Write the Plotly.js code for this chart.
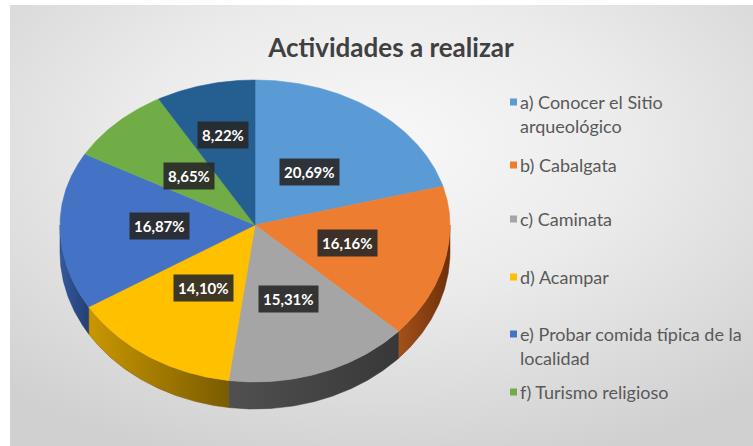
<!DOCTYPE html>
<html><head><meta charset="utf-8">
<script src="https://cdn.plot.ly/plotly-3.0.1.min.js"></script>
<style>
html,body{margin:0;padding:0;background:#fff;}
#wrap{position:relative;width:753px;height:446px;overflow:hidden;}
#bg{position:absolute;left:10px;top:5px;right:0;bottom:0;background:radial-gradient(ellipse 75% 75% at 50% 32%, #f8f8f8 0%, #ebebeb 45%, #d0d0d0 100%);}
#chart{position:absolute;left:0;top:0;width:753px;height:446px;}
</style></head><body>
<div id="wrap"><div id="bg"></div><div id="chart"></div></div>
<script>
// ---- data ----
const titleText = "Actividades a realizar";
const categories = [
  "a) Conocer el Sitio arqueológico",
  "b) Cabalgata",
  "c) Caminata",
  "d) Acampar",
  "e) Probar comida típica de la localidad",
  "f) Turismo religioso",
  "g)"
];
const values = [20.69, 16.16, 15.31, 14.10, 16.87, 8.65, 8.22];
const legendCount = 6; // the reference legend lists only the first six
const colors = ["#5B9BD5", "#ED7D31", "#A5A5A5", "#FFC000", "#4472C4", "#70AD47", "#255E91"];
const sideLight = ["#3f76a8", "#a4511a", "#505050", "#c99700", "#34599e", "#548235", "#1c4670"];
const sideDark  = ["#2c5a85", "#6e3008", "#383838", "#7a5c00", "#243f73", "#3b5e24", "#123250"];

// ---- geometry (layout) ----
const cx = 255, cy = 225, rx = 195, ryTop = 145, ryBot = 157, depth = 27;
const labelR = [0.46, 0.49, 0.5, 0.48, 0.49, 0.48, 0.64];
const legendY = [102, 165, 219, 277, 334, 392];
const legendLineGap = 24;

function pt(tDeg, f) {
  const t = tDeg * Math.PI / 180;
  const c = Math.cos(t), s = Math.sin(t);
  const ry = c >= 0 ? ryTop : ryBot;
  return [cx + rx * s * f, cy - ry * c * f];
}
function arc(a, b, f) {
  const pts = [];
  const n = Math.max(2, Math.ceil((b - a) / 0.5));
  for (let k = 0; k <= n; k++) pts.push(pt(a + (b - a) * k / n, f));
  return pts;
}

const total = values.reduce((s, v) => s + v, 0);
const starts = [], ends = [];
let acc = 0;
values.forEach(v => { starts.push(acc / total * 360); acc += v; ends.push(acc / total * 360); });

const traces = [];
// side walls (front half: 90..270 deg)
values.forEach((v, i) => {
  const a = Math.max(starts[i], 90), b = Math.min(ends[i], 270);
  if (b <= a) return;
  const top = arc(a, b, 1);
  const bot = top.slice().reverse().map(p => [p[0], p[1] + depth]);
  const poly = top.concat(bot);
  poly.push(top[0]);
  traces.push({
    type: "scatter", mode: "lines", x: poly.map(p => p[0]), y: poly.map(p => p[1]),
    fill: "toself", fillcolor: sideDark[i],
    fillgradient: {type: "horizontal", colorscale: [[0, sideLight[i]], [1, sideDark[i]]]},
    line: {width: 0.5, color: sideDark[i]}, hoverinfo: "skip", showlegend: false
  });
});
// top faces
values.forEach((v, i) => {
  const pts = [[cx, cy]].concat(arc(starts[i], ends[i], 1));
  pts.push([cx, cy]);
  traces.push({
    type: "scatter", mode: "lines", x: pts.map(p => p[0]), y: pts.map(p => p[1]),
    fill: "toself", fillcolor: colors[i], line: {width: 0.6, color: colors[i]},
    hoveron: "fills", name: categories[i], text: v.toFixed(2) + "%", hoverinfo: "name+text",
    showlegend: false
  });
});

const annotations = [];
// data labels
values.forEach((v, i) => {
  const p = pt((starts[i] + ends[i]) / 2, labelR[i]);
  annotations.push({
    x: p[0], y: p[1], xref: "x", yref: "y", showarrow: false,
    text: v.toFixed(2).replace(".", ",") + "%",
    font: {family: "Lato, 'Open Sans', sans-serif", size: 15, color: "#ffffff", weight: "bold"},
    bgcolor: "rgba(40,40,40,0.9)", borderpad: 4, xanchor: "center", yanchor: "middle"
  });
});

// legend (wrapped text)
function wrap(s, maxc) {
  const words = s.split(" "), lines = [];
  let cur = "";
  words.forEach(w => {
    const t = cur ? cur + " " + w : w;
    if (t.length > maxc && cur) { lines.push(cur); cur = w; } else cur = t;
  });
  if (cur) lines.push(cur);
  return lines;
}
const shapes = [];
for (let i = 0; i < legendCount; i++) {
  const y0 = legendY[i];
  shapes.push({type: "rect", xref: "x", yref: "y", x0: 510, x1: 517, y0: y0 - 3.5, y1: y0 + 3.5,
    fillcolor: colors[i], line: {width: 0}});
  wrap(categories[i], 29).forEach((ln, k) => {
    annotations.push({
      x: 518, y: y0 + k * legendLineGap, xref: "x", yref: "y", showarrow: false,
      xanchor: "left", yanchor: "middle", text: ln,
      font: {family: "Lato, 'Open Sans', sans-serif", size: 18, color: "#595959"}
    });
  });
}

const layout = {
  width: 753, height: 446,
  margin: {l: 0, r: 0, t: 0, b: 0},
  paper_bgcolor: "rgba(0,0,0,0)", plot_bgcolor: "rgba(0,0,0,0)",
  title: {text: titleText, x: 391 / 753, xanchor: "center", y: 1 - 48 / 446, yanchor: "middle",
    xref: "paper", yref: "paper",
    font: {family: "Lato, 'Open Sans', sans-serif", size: 26, color: "#404040", weight: "bold"}},
  xaxis: {range: [0, 753], visible: false, fixedrange: true},
  yaxis: {range: [446, 0], visible: false, fixedrange: true},
  showlegend: false,
  annotations: annotations, shapes: shapes
};
Plotly.newPlot("chart", traces, layout, {displayModeBar: false});
</script>
</body></html>
